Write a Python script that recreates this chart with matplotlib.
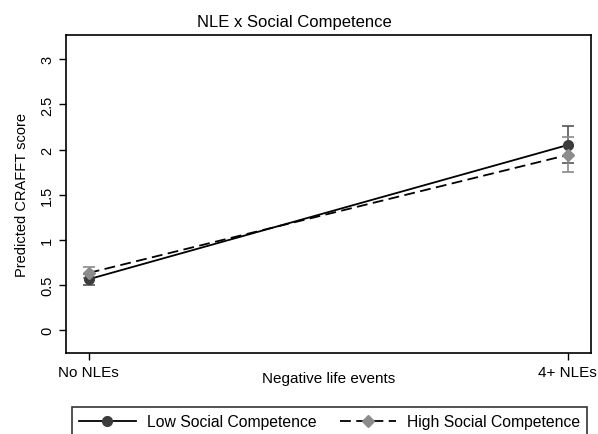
import matplotlib.pyplot as plt
import numpy as np

plt.rcParams["font.family"] = "Liberation Sans", "DejaVu Sans"

# ----------------- Data ---------------------------------------------- #
groups = ["No NLEs", "4+ NLEs"]
low_sc = [0.56, 2.05]
low_ci_lo = [0.50, 1.85]
low_ci_hi = [0.62, 2.26]
high_sc = [0.63, 1.94]
high_ci_lo = [0.57, 1.75]
high_ci_hi = [0.70, 2.14]

x = np.arange(len(groups))

fig = plt.figure(figsize=(5.98, 4.35), dpi=100)
ax = fig.add_axes([0.110, 0.186, 0.878, 0.731])

# error bars first so markers sit on top
ax.errorbar(x, low_sc,
            yerr=[np.subtract(low_sc, low_ci_lo), np.subtract(low_ci_hi, low_sc)],
            fmt='none', ecolor='#555555', elinewidth=1.2, capsize=4, capthick=1.2, zorder=2)
ax.errorbar(x, high_sc,
            yerr=[np.subtract(high_sc, high_ci_lo), np.subtract(high_ci_hi, high_sc)],
            fmt='none', ecolor='#8a8a8a', elinewidth=1.2, capsize=4, capthick=1.2, zorder=2)

ax.plot(x, low_sc, '-', color='black', linewidth=1.3, marker='o', markersize=7,
        markerfacecolor='#3c3c3c', markeredgecolor='#3c3c3c',
        label='Low Social Competence', zorder=3)
ax.plot(x, high_sc, '--', color='black', linewidth=1.3, dashes=(6, 3), marker='D',
        markersize=6.5, markerfacecolor='#8c8c8c', markeredgecolor='#8c8c8c',
        label='High Social Competence', zorder=3)

ax.set_xlim(-0.048, 1.048)
ax.set_ylim(-0.26, 3.27)
ax.set_xticks(x)
ax.set_xticklabels(groups, fontsize=11)
ax.set_yticks([0, 0.5, 1, 1.5, 2, 2.5, 3])
ax.set_yticklabels(['0', '0.5', '1', '1.5', '2', '2.5', '3'], rotation=90,
                   va='center', fontsize=10.5)
ax.tick_params(direction='out', length=5, width=1, colors='black')
for s in ax.spines.values():
    s.set_linewidth(1.2)

ax.set_xlabel('Negative life events', fontsize=11, labelpad=-6)
ax.set_ylabel('Predicted CRAFFT score', fontsize=10.5, labelpad=8)
fig.text(0.493, 0.948, 'NLE x Social Competence', ha='center', va='center', fontsize=12)

leg = fig.legend(loc='upper left', bbox_to_anchor=(72 / 598, 1 - 408 / 435),
                 ncol=2, fontsize=11.3, fancybox=False, frameon=True,
                 edgecolor='black', handlelength=3.6, handletextpad=0.7,
                 columnspacing=1.5, borderpad=0.45, borderaxespad=0)
leg.get_frame().set_linewidth(1.2)

fig.savefig('out.png', dpi=100)
